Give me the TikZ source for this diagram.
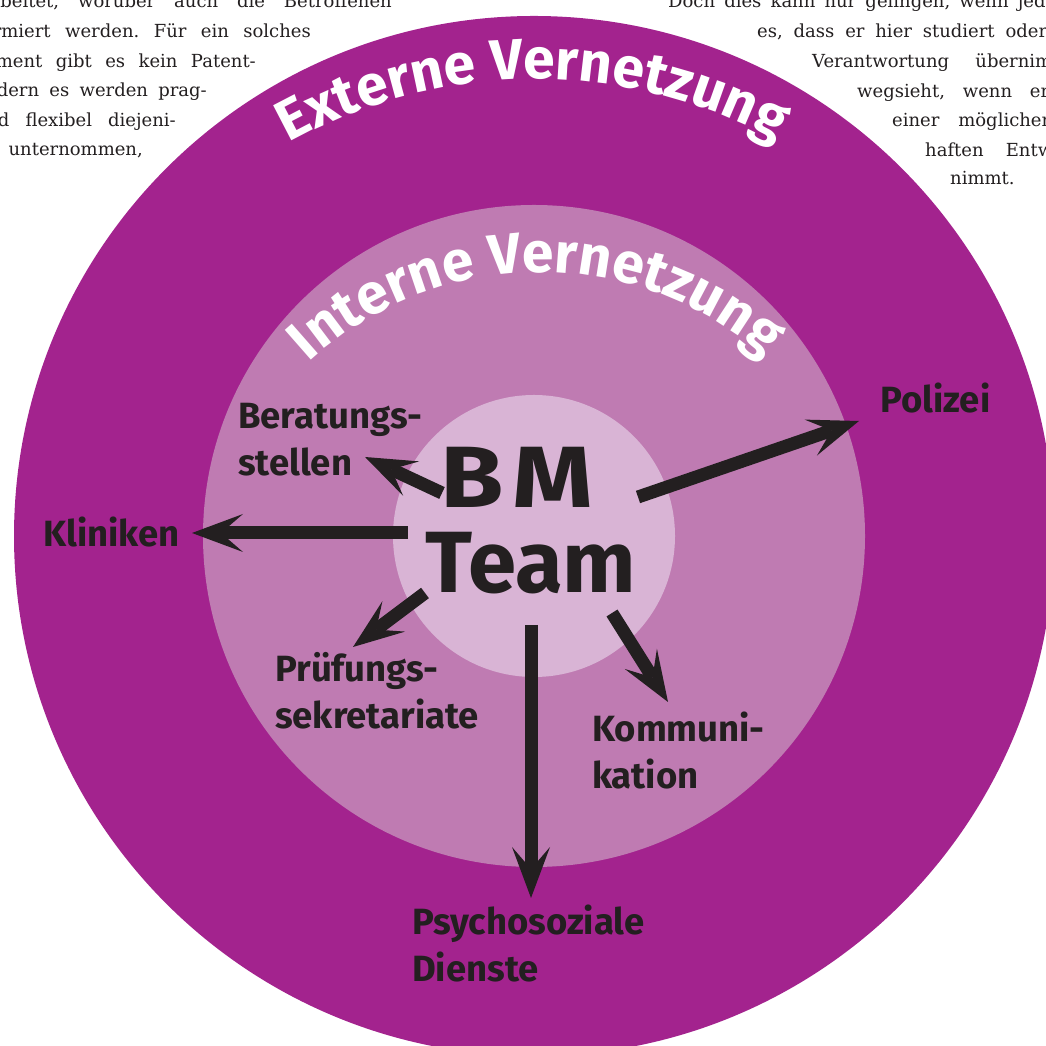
\documentclass[tikz,border=0pt]{standalone}
\usepackage{fontspec}
\setmainfont{Fira Sans}
\newfontfamily\pagefont{DejaVu Serif}
\usetikzlibrary{arrows.meta}
\usetikzlibrary{decorations.text}
\definecolor{extcol}{HTML}{A3238E}
\definecolor{intcol}{HTML}{BF7BB2}
\definecolor{teamcol}{HTML}{D9B4D5}
\definecolor{inkcol}{HTML}{231F20}
\frenchspacing

\begin{document}
\begin{tikzpicture}[x=1pt,y=1pt,
 partner/.style={font=\fontsize{36.5}{47.5}\selectfont\bfseries,text=inkcol,align=left,anchor=base west,inner sep=0pt},
 teamtext/.style={font=\fontsize{87}{87}\selectfont\bfseries,text=inkcol,anchor=base,inner sep=0pt},
 pagetext/.style={font=\pagefont\fontsize{18}{30}\selectfont,text=inkcol,inner sep=0pt},
 link/.style={draw=inkcol,line width=13pt,-{Stealth[length=51pt,width=38pt,inset=22pt,line width=0pt]}},
 ring/.style={decorate,decoration={text along path,text align=center,
   text={|\fontsize{57}{57}\selectfont\bfseries\color{white}|#1}}}]
 \useasboundingbox (0,0) rectangle (1046,1046);
 \clip (0,0) rectangle (1046,1046);

 \node[pagetext,anchor=base east] (l1) at (392,1038) {\makebox[400pt][s]{rbeitet, worüber auch die Betroffenen}};
 \node[pagetext,anchor=base east] (l2) at (311,1008) {\makebox[318pt][s]{rmiert werden. Für ein solches}};
 \node[pagetext,anchor=base east] (l3) at (256,978) {\makebox[260pt][s]{ment gibt es kein Patent-}};
 \node[pagetext,anchor=base east] (l4) at (207,949) {\makebox[210pt][s]{dern es werden prag-}};
 \node[pagetext,anchor=base east] (l5) at (176,919) {\makebox[178pt][s]{d flexibel diejeni-}};
 \node[pagetext,anchor=base east] (l6) at (143,890) {unternommen,};
 \node[pagetext,anchor=base west] (r1) at (668,1038) {\makebox[388pt][s]{Doch dies kann nur gelingen, wenn jede}};
 \node[pagetext,anchor=base west] (r2) at (757,1008) {\makebox[290pt][s]{es, dass er hier studiert oder}};
 \node[pagetext,anchor=base west] (r3) at (812,978) {\makebox[240pt][s]{Verantwortung übernim}};
 \node[pagetext,anchor=base west] (r4) at (857,948) {\makebox[192pt][s]{wegsieht, wenn er}};
 \node[pagetext,anchor=base west] (r5) at (892,919) {\makebox[158pt][s]{einer möglicher}};
 \node[pagetext,anchor=base west] (r6) at (925,889) {\makebox[128pt][s]{haften Entw}};
 \node[pagetext,anchor=base west] (r7) at (950,861) {nimmt.};

 \coordinate (hub) at (534,510);
 \fill[extcol] (hub) circle[radius=520];
 \fill[intcol] (hub) circle[radius=331];
 \fill[teamcol] (hub) circle[radius=141];

 \path[ring=Externe Vernetzung] (535,461) ++(150.3:506) arc[start angle=150.3,end angle=30.3,radius=506];
 \path[ring=Interne Vernetzung] (540,433) ++(150.65:341) arc[start angle=150.65,end angle=30.65,radius=341];

 \node[teamtext] (bm) at (517,538) {\scalebox{1.18}[1]{B\kern8pt M}};
 \node[teamtext] (team) at (531,453) {Team};

 \node[partner] (polizei) at (880,633) {Polizei};
 \node[partner] (beratung) at (238,570) {Beratungs-\\stellen};
 \node[partner] (kliniken) at (43,499) {Kliniken};
 \node[partner] (pruefung) at (275,317) {Prüfungs-\\sekretariate};
 \node[partner] (psycho) at (412,64) {Psychosoziale\\Dienste};
 \node[partner] (kommunikation) at (592,257) {Kommuni-\\kation};

 \coordinate (pol-a) at (638,549); \coordinate (pol-b) at (859,625);
 \coordinate (ber-a) at (442,553); \coordinate (ber-b) at (365,589);
 \coordinate (kli-a) at (408,513); \coordinate (kli-b) at (192,513);
 \coordinate (pru-a) at (425,453); \coordinate (pru-b) at (353,399);
 \coordinate (psy-a) at (531,421); \coordinate (psy-b) at (531,148);
 \coordinate (kom-a) at (612,433); \coordinate (kom-b) at (668,344);

 \draw[link] (pol-a) -- (pol-b);
 \draw[link] (ber-a) -- (ber-b);
 \draw[link] (kli-a) -- (kli-b);
 \draw[link] (pru-a) -- (pru-b);
 \draw[link] (psy-a) -- (psy-b);
 \draw[link] (kom-a) -- (kom-b);
\end{tikzpicture}
\end{document}
